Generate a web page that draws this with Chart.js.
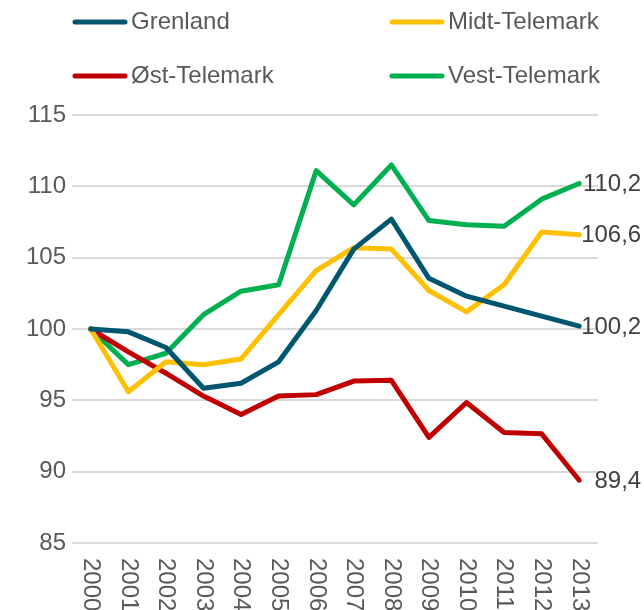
<!DOCTYPE html>
<html>
<head>
<meta charset="utf-8">
<script src="https://cdn.jsdelivr.net/npm/chart.js@4"></script>
<style>
  html, body { margin: 0; padding: 0; background: #fff; }
  #wrap { width: 644px; height: 610px; }
</style>
</head>
<body>
<div id="wrap"><canvas id="lineCanvas" width="644" height="610"></canvas></div>
<script>
///// données
let annees = ["2000","2001","2002","2003","2004","2005","2006","2007","2008","2009","2010","2011","2012","2013"];
let grenland = [100, 99.8, 98.7, 95.85, 96.2, 97.7, 101.3, 105.6, 107.7, 103.55, 102.3, 101.6, 100.9, 100.2];
let midtTelemark = [100, 95.6, 97.7, 97.5, 97.9, 101.0, 104.1, 105.7, 105.6, 102.7, 101.2, 103.1, 106.8, 106.6];
let ostTelemark = [100, 98.4, 96.9, 95.3, 94.0, 95.3, 95.4, 96.35, 96.4, 92.4, 94.85, 92.75, 92.65, 89.4];
let vestTelemark = [100, 97.5, 98.3, 101.0, 102.65, 103.1, 111.1, 108.7, 111.5, 107.6, 107.3, 107.2, 109.1, 110.2];
let yTicks = [85, 90, 95, 100, 105, 110, 115];

let police = "Liberation Sans, Arial, sans-serif";
let gris = "#595959";

///// légende sur deux colonnes
let legendePlugin = {
    id: "legende2col",
    afterDraw(chart) {
        let ctx = chart.ctx;
        let pos = [[72, 22], [389, 22], [72, 76], [389, 76]];
        ctx.save();
        ctx.font = "24px " + police;
        ctx.textBaseline = "middle";
        chart.data.datasets.forEach((ds, i) => {
            let p = pos[i];
            ctx.strokeStyle = ds.borderColor;
            ctx.lineWidth = 5;
            ctx.lineCap = "round";
            ctx.beginPath();
            ctx.moveTo(p[0] + 3, p[1]);
            ctx.lineTo(p[0] + 53, p[1]);
            ctx.stroke();
            ctx.fillStyle = gris;
            ctx.fillText(ds.label, p[0] + 59, p[1]);
        });
        ctx.restore();
    }
};

///// étiquettes de l'axe x (rotation dans le sens horaire)
let axeXPlugin = {
    id: "axeX",
    afterDraw(chart) {
        let ctx = chart.ctx;
        let xs = chart.scales.x;
        ctx.save();
        ctx.font = "24px " + police;
        ctx.fillStyle = gris;
        ctx.textBaseline = "middle";
        ctx.textAlign = "left";
        annees.forEach((a, i) => {
            ctx.save();
            ctx.translate(xs.getPixelForValue(i), chart.chartArea.bottom + 15);
            ctx.rotate(Math.PI / 2);
            ctx.fillText(a, 0, 0);
            ctx.restore();
        });
        ctx.restore();
    }
};

///// valeurs en fin de courbe
let finPlugin = {
    id: "finValeurs",
    afterDatasetsDraw(chart) {
        let ctx = chart.ctx;
        ctx.save();
        ctx.font = "24px " + police;
        ctx.fillStyle = "#404040";
        ctx.textBaseline = "middle";
        ctx.textAlign = "right";
        chart.data.datasets.forEach((ds, i) => {
            let meta = chart.getDatasetMeta(i);
            let pt = meta.data[meta.data.length - 1];
            let v = ds.data[ds.data.length - 1];
            ctx.fillText(v.toFixed(1).replace(".", ","), pt.x + 62, pt.y + 1);
        });
        ctx.restore();
    }
};

let graph = document.getElementById("lineCanvas");
let lineChart = new Chart(graph, {
    type: "line",
    data: {
        labels: annees,
        datasets: [{
            label: "Grenland",
            data: grenland,
            borderColor: "#00566F",
            backgroundColor: "#00566F"
        }, {
            label: "Midt-Telemark",
            data: midtTelemark,
            borderColor: "#FFC000",
            backgroundColor: "#FFC000"
        }, {
            label: "Øst-Telemark",
            data: ostTelemark,
            borderColor: "#C00000",
            backgroundColor: "#C00000"
        }, {
            label: "Vest-Telemark",
            data: vestTelemark,
            borderColor: "#00B050",
            backgroundColor: "#00B050"
        }]
    },
    options: {
        responsive: false,
        animation: false,
        devicePixelRatio: 1,
        layout: { padding: { top: 115, right: 46, left: 0, bottom: 0 } },
        elements: {
            line: { borderWidth: 5, tension: 0, borderJoinStyle: "round", borderCapStyle: "round" },
            point: { radius: 0, hoverRadius: 0 }
        },
        plugins: {
            legend: { display: false },
            tooltip: { enabled: false }
        },
        scales: {
            x: {
                offset: true,
                grid: { display: false },
                border: { display: false },
                ticks: { display: false },
                afterFit: s => { s.height = 67; }
            },
            y: {
                min: 85,
                max: 115,
                afterBuildTicks: s => { s.ticks = yTicks.map(v => ({ value: v })); },
                grid: { color: "#D9D9D9", lineWidth: 2, drawTicks: false },
                border: { display: false },
                ticks: {
                    color: gris,
                    padding: 6,
                    font: { size: 24, family: police }
                },
                afterFit: s => { s.width = 72; }
            }
        }
    },
    plugins: [legendePlugin, axeXPlugin, finPlugin]
});
</script>
</body>
</html>
